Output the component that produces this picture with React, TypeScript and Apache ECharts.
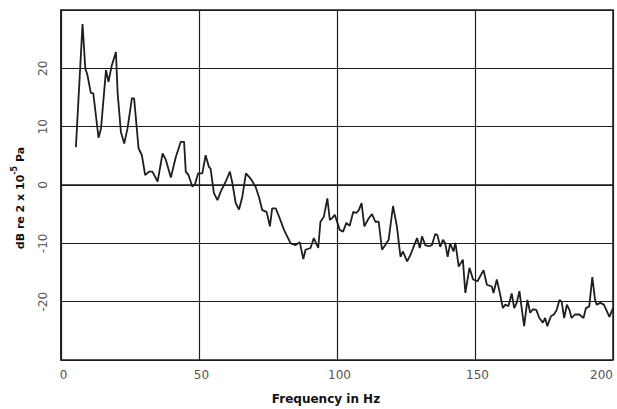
import React, { useEffect, useRef } from "react";
import * as echarts from "echarts";

const frequencyHz: number[] = [
  5.4, 7.8, 8.8, 9.6, 10.8, 11.7, 13.6, 14.5, 16.3, 17.2, 18.4, 19.9, 20.5, 21.7, 22.9, 24.1, 25.7, 26.5, 28.1, 29.3,
  30.5, 31.9, 33.1, 35, 36.8, 38, 39.8, 41.6, 43.4, 44.6, 45.2, 46.2, 47.6, 48.6, 49.7, 51.2, 52.4, 53.6, 54.2, 55.4,
  56.7, 57.9, 59.7, 61.2, 62.1, 63.3, 64.5, 65.7, 67, 68.7, 70.5, 71.7, 72.9, 74.5, 75.7, 76.5, 77.8, 79, 80.8, 83.2,
  85, 86.5, 87.8, 88.6, 90.4, 91.6, 93.2, 94, 95.2, 96.5, 97.4, 98.4, 99.2, 101, 102.2, 103.4, 104.6, 105.9, 107, 107.9,
  108.9, 109.9, 111.5, 112.7, 113.9, 115.1, 116.3, 117.5, 118.7, 120.3, 121.7, 123, 123.9, 125.4, 126.6, 128, 129, 130, 130.8, 132,
  133.2, 134.4, 135.6, 136.4, 137.4, 138.4, 139.2, 140.1, 141, 142.2, 142.9, 144.1, 145.6, 146.5, 148, 149.3, 150.9, 153.1, 154.3, 156.1,
  156.7, 157.9, 159, 160.1, 161, 162.1, 163.3, 164.2, 165.1, 166.1, 167, 167.8, 169, 170, 171, 172.2, 173.3, 174.6, 175.4, 176.2,
  177.5, 178.6, 179.6, 180.6, 181.4, 182.3, 183.3, 184.2, 185, 186.2, 187.8, 189.3, 190.2, 191.4, 192.5, 193.5, 194.1, 195.4, 196.7, 198.7,
  200,
];

const levelDb: number[] = [
  6.5, 27.6, 20, 18.8, 15.8, 15.7, 8.1, 9.7, 19.7, 17.7, 20.5, 22.8, 15.9, 9.1, 7.1, 9.7, 14.9, 14.8, 6.3, 5.1,
  1.7, 2.3, 2.3, 0.6, 5.4, 4.3, 1.3, 4.8, 7.4, 7.4, 2.3, 1.7, -0.3, 0.2, 2, 2, 5.1, 3.1, 2.8, -1.4,
  -2.6, -1.1, 0.6, 2.3, 0.3, -3.1, -4.2, -2, 2, 1.1, -0.3, -2, -4.3, -4.6, -7.1, -4, -4, -5.4, -7.7, -10,
  -10.3, -9.8, -12.7, -11.1, -10.8, -9.1, -10.8, -6.3, -5.5, -2.3, -6, -5.6, -5.1, -7.7, -8, -6.5, -7, -4.6, -4.8, -4.3,
  -3.1, -7.1, -5.7, -5, -6.3, -6.3, -11.1, -10.3, -9.4, -3.6, -7.1, -12.3, -11.4, -13.1, -12, -10.3, -9.1, -10.8, -8.8, -10.3,
  -10.5, -10.3, -8.4, -8.6, -10.6, -9.4, -10, -12.3, -10, -11.4, -9.9, -14, -12.8, -18.5, -14.2, -16.2, -16.5, -14.6, -17.1, -17.4,
  -18.5, -16.2, -18.5, -21.1, -20.5, -20.8, -18.6, -21.1, -20.2, -18.2, -21.4, -24.2, -19.7, -21.9, -21.3, -21.4, -22.8, -23.6, -22.8, -24.2,
  -22.5, -22.2, -21.4, -19.7, -20, -22.8, -20.5, -21.4, -22.8, -22.2, -22.2, -22.8, -21.1, -20.8, -15.8, -19.7, -20.5, -20.2, -20.5, -22.6,
  -21.1,
];

const xTicks: number[] = [0, 50, 100, 150, 200];
const yTicks: number[] = [-20, -10, 0, 10, 20];

export default function App() {
  const ref = useRef<HTMLDivElement>(null);
  useEffect(() => {
    if (!ref.current) return;
    const chart = echarts.init(ref.current, undefined, { renderer: "svg" });
    const ink = "#1e1e1e";
    const font = "DejaVu Sans";
    chart.setOption({
      animation: false,
      backgroundColor: "#ffffff",
      grid: {
        left: 61,
        right: 4,
        top: 10,
        bottom: 49,
        show: true,
        borderColor: ink,
        borderWidth: 1.5,
        containLabel: false,
        outerBoundsMode: "none",
      },
      xAxis: {
        type: "value",
        min: 0,
        max: 200,
        interval: 50,
        name: "Frequency in Hz",
        nameLocation: "middle",
        nameGap: 33,
        nameTextStyle: { fontFamily: font, fontSize: 12, color: "#111", fontWeight: "bold", padding: [0, 22, 0, 0] },
        axisLine: { show: true, lineStyle: { color: ink, width: 1.5 } },
        axisTick: { show: false },
        splitLine: { show: true, lineStyle: { color: ink, width: 1.2 } },
        axisLabel: {
          fontFamily: font,
          fontSize: 12,
          color: "#555",
          margin: 9,
          padding: [0, 0, 0, 5],
          alignMaxLabel: "right",
          formatter: (v: number) => (xTicks.includes(v) ? String(v) : ""),
        },
      },
      yAxis: {
        type: "value",
        min: -30,
        max: 30,
        interval: 10,
        name: "{a|dB re 2 x 10}{s|-5}{a| Pa}",
        nameLocation: "middle",
        nameGap: 35,
        nameRotate: 90,
        nameTextStyle: {
          padding: [0, 26, 0, 0],
          rich: {
            a: { fontFamily: font, fontSize: 11, color: "#111", fontWeight: "bold", lineHeight: 16, verticalAlign: "bottom" },
            s: { fontFamily: font, fontSize: 8, color: "#111", fontWeight: "bold", lineHeight: 16, verticalAlign: "top", padding: [0, 0, 6, 0] },
          },
        },
        axisLine: { show: true, lineStyle: { color: ink, width: 1.5 } },
        axisTick: { show: false },
        splitLine: { show: true, lineStyle: { color: ink, width: 1.2 } },
        axisLabel: {
          fontFamily: font,
          fontSize: 12,
          color: "#555",
          rotate: 90,
          margin: 12,
          formatter: (v: number) => (yTicks.includes(v) ? String(v) : ""),
        },
      },
      series: [
        {
          type: "line",
          data: frequencyHz.map((f, i) => [f, levelDb[i]]),
          showSymbol: false,
          lineStyle: { color: ink, width: 1.8 },
          z: 5,
        },
      ],
    });
    return () => chart.dispose();
  }, []);
  return <div ref={ref} style={{ position: "fixed", left: 0, top: 0, width: 617, height: 409 }} />;
}
